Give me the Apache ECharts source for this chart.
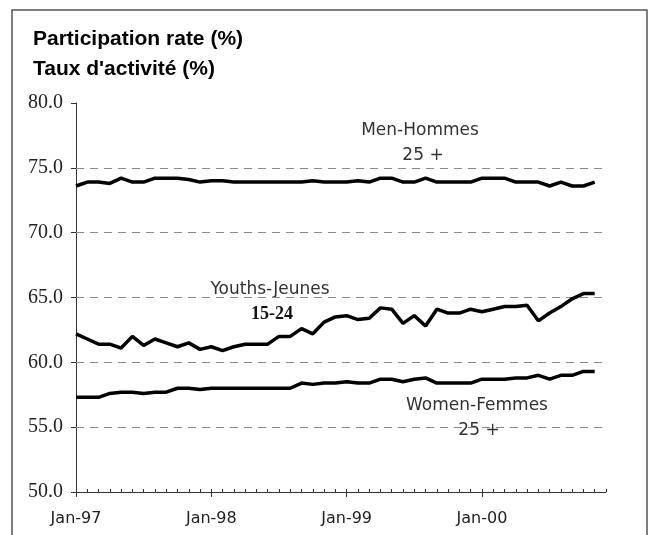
<!DOCTYPE html>
<html>
<head>
<meta charset="utf-8">
<script src="https://cdn.jsdelivr.net/npm/echarts@6/dist/echarts.min.js"></script>
<style>
html, body { margin: 0; padding: 0; background: #fff; }
#chart { width: 650px; height: 535px; }
</style>
</head>
<body>
<div id="chart"></div>
<script>
// monthly, Jan-97 .. Dec-00 (last month has no data)
var monthNames = ['Jan', 'Feb', 'Mar', 'Apr', 'May', 'Jun', 'Jul', 'Aug', 'Sep', 'Oct', 'Nov', 'Dec'];
var years = ['97', '98', '99', '00'];
var categories = [];
years.forEach(function (y) {
    monthNames.forEach(function (m) { categories.push(m + '-' + y); });
});

var yTicks = [50, 55, 60, 65, 70, 75, 80];
var gridLevels = [55, 60, 65, 70, 75];

var men = [73.6, 73.9, 73.9, 73.8, 74.2, 73.9, 73.9, 74.2, 74.2, 74.2, 74.1, 73.9,
    74.0, 74.0, 73.9, 73.9, 73.9, 73.9, 73.9, 73.9, 73.9, 74.0, 73.9, 73.9,
    73.9, 74.0, 73.9, 74.2, 74.2, 73.9, 73.9, 74.2, 73.9, 73.9, 73.9, 73.9,
    74.2, 74.2, 74.2, 73.9, 73.9, 73.9, 73.6, 73.9, 73.6, 73.6, 73.9];

var youths = [62.2, 61.8, 61.4, 61.4, 61.1, 62.0, 61.3, 61.8, 61.5, 61.2, 61.5, 61.0,
    61.2, 60.9, 61.2, 61.4, 61.4, 61.4, 62.0, 62.0, 62.6, 62.2, 63.1, 63.5,
    63.6, 63.3, 63.4, 64.2, 64.1, 63.0, 63.6, 62.8, 64.1, 63.8, 63.8, 64.1,
    63.9, 64.1, 64.3, 64.3, 64.4, 63.2, 63.8, 64.3, 64.9, 65.3, 65.3];

var women = [57.3, 57.3, 57.3, 57.6, 57.7, 57.7, 57.6, 57.7, 57.7, 58.0, 58.0, 57.9,
    58.0, 58.0, 58.0, 58.0, 58.0, 58.0, 58.0, 58.0, 58.4, 58.3, 58.4, 58.4,
    58.5, 58.4, 58.4, 58.7, 58.7, 58.5, 58.7, 58.8, 58.4, 58.4, 58.4, 58.4,
    58.7, 58.7, 58.7, 58.8, 58.8, 59.0, 58.7, 59.0, 59.0, 59.3, 59.3];

var chart = echarts.init(document.getElementById('chart'));

function isJan(i) { return i % 12 === 0; }

function lineSeries(name, data) {
    return {
        name: name,
        type: 'line',
        data: data,
        symbol: 'none',
        smooth: false,
        silent: true,
        lineStyle: { color: '#000', width: 3.5 },
        z: 3
    };
}

var annoFont = '"DejaVu Sans", sans-serif';

var option = {
    animation: false,
    backgroundColor: '#fff',
    grid: { left: 76, right: 44, top: 103, bottom: 43 },
    xAxis: [
        {
            type: 'category',
            data: categories,
            boundaryGap: false,
            axisLine: { lineStyle: { color: '#333', width: 1 } },
            axisTick: { inside: true, length: 3, interval: 0, lineStyle: { color: '#333' } },
            axisLabel: { show: false },
            splitLine: { show: false }
        },
        {
            type: 'category',
            data: categories,
            position: 'bottom',
            boundaryGap: false,
            axisLine: { show: false },
            axisTick: { inside: false, length: 5, interval: isJan, lineStyle: { color: '#333' } },
            axisLabel: {
                interval: isJan,
                margin: 19,
                color: '#222',
                fontFamily: annoFont,
                fontSize: 16
            },
            splitLine: { show: false }
        }
    ],
    yAxis: {
        type: 'value',
        min: yTicks[0],
        max: yTicks[yTicks.length - 1],
        interval: 5,
        axisLine: { show: true, lineStyle: { color: '#333', width: 1 } },
        axisTick: { show: true, length: 5, lineStyle: { color: '#333' } },
        axisLabel: {
            margin: 13,
            color: '#222',
            fontFamily: '"Liberation Serif", serif',
            fontSize: 20,
            formatter: function (v) { return v.toFixed(1); }
        },
        splitLine: { show: false }
    },
    series: [
        Object.assign(lineSeries('Men-Hommes 25 +', men), {
            markLine: {
                silent: true,
                symbol: 'none',
                label: { show: false },
                lineStyle: { color: '#8a8a8a', type: [8, 6], width: 1 },
                data: gridLevels.map(function (v) { return { yAxis: v }; }),
                z: 1
            }
        }),
        lineSeries('Youths-Jeunes 15-24', youths),
        lineSeries('Women-Femmes 25 +', women)
    ],
    graphic: [
        {
            type: 'rect',
            shape: { x: 12, y: 10, width: 635, height: 540 },
            style: { fill: 'none', stroke: '#555', lineWidth: 1.5 },
            silent: true
        },
        {
            type: 'text', left: 33, top: 24,
            style: {
                text: 'Participation rate (%)\nTaux d\'activité (%)',
                font: 'bold 21px "Liberation Sans", Arial, sans-serif',
                lineHeight: 30,
                fill: '#000'
            }
        },
        { type: 'text', x: 420, y: 131, style: { text: 'Men-Hommes', font: '17px ' + annoFont, fill: '#333', align: 'center', verticalAlign: 'middle' } },
        { type: 'text', x: 423, y: 156, style: { text: '25 +', font: '17px ' + annoFont, fill: '#333', align: 'center', verticalAlign: 'middle' } },
        { type: 'text', x: 270, y: 290, style: { text: 'Youths-Jeunes', font: '17px ' + annoFont, fill: '#333', align: 'center', verticalAlign: 'middle' } },
        { type: 'text', x: 272, y: 314, style: { text: '15-24', font: 'bold 18px "Liberation Serif", serif', fill: '#111', align: 'center', verticalAlign: 'middle' } },
        { type: 'text', x: 477, y: 406, style: { text: 'Women-Femmes', font: '17px ' + annoFont, fill: '#333', align: 'center', verticalAlign: 'middle' } },
        { type: 'text', x: 479, y: 431, style: { text: '25 +', font: '17px ' + annoFont, fill: '#333', align: 'center', verticalAlign: 'middle' } }
    ]
};

chart.setOption(option);
window.addEventListener('resize', function () {
    chart.resize();
});
</script>
</body>
</html>
